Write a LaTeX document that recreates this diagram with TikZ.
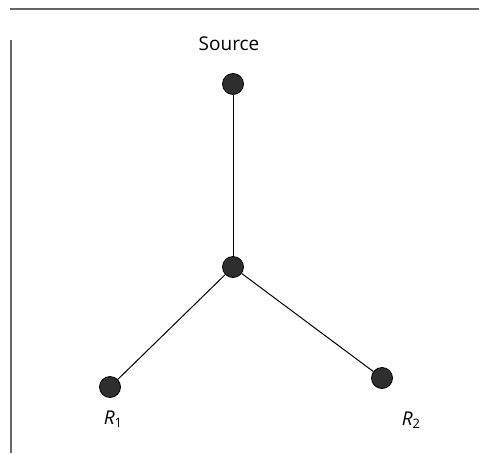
\documentclass[tikz,border=0pt]{standalone}
\usepackage{fontspec}
\setmainfont{Open Sans}
\newcommand{\lowsub}[1]{\raisebox{-0.35ex}{\fontsize{13}{15}\selectfont #1}}
\begin{document}
\begin{tikzpicture}[x=1pt,y=-1pt,
  router/.style={circle,draw=black,line width=0.8pt,fill=black!82,minimum size=21pt,inner sep=0pt},
  link/.style={line width=1pt,black},
  frame/.style={line width=1.2pt,black!60},
  lbl/.style={font=\fontsize{19}{22}\selectfont}]
\useasboundingbox (0,0) rectangle (479,453);
\draw[frame] (10,9) -- (479,9);
\draw[frame] (11,40) -- (11,453);
\node[router] (src) at (233,84) {};
\node[router] (mid) at (233,267) {};
\node[router] (r1) at (110,387) {};
\node[router] (r2) at (382,378) {};
\draw[link] (src) -- (mid);
\draw[link] (mid) -- (r1);
\draw[link] (mid) -- (r2);
\node[lbl] (srclbl) at (229,44) {Source};
\node[lbl] (r1lbl) at (113,419) {\textit{R}\lowsub{1}};
\node[lbl] (r2lbl) at (411,420) {\textit{R}\lowsub{2}};
\end{tikzpicture}
\end{document}
